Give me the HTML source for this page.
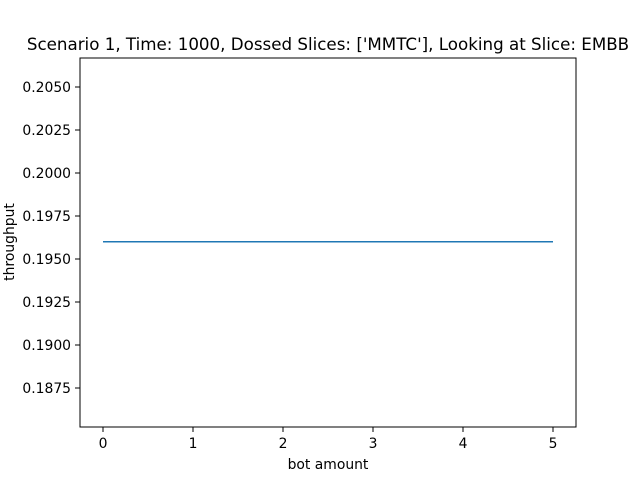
<!DOCTYPE html>
<html><head><meta charset="utf-8">
<style>
html,body{margin:0;padding:0;background:#fff;width:640px;height:480px;overflow:hidden}
text{font-family:"DejaVu Sans","Liberation Sans",sans-serif;fill:#000}
</style></head>
<body>
<svg id="chart" width="640" height="480" xmlns="http://www.w3.org/2000/svg">
<text x="328" y="50" font-size="16.7" text-anchor="middle">Scenario 1, Time: 1000, Dossed Slices: ['MMTC'], Looking at Slice: EMBB</text>
<rect x="80" y="58" width="496" height="369" fill="none" stroke="#000" stroke-width="1"/>
<g id="xticks"></g><g id="yticks"></g>
<text x="328" y="469" font-size="13.9" text-anchor="middle">bot amount</text>
<text x="14" y="242" font-size="13.9" text-anchor="middle" transform="rotate(-90 14 242)">throughput</text>
<path id="series" fill="none" stroke="#1f77b4" stroke-width="1.5"/>
</svg>
<script>
const botAmounts = [0, 1, 2, 3, 4, 5];
const throughput = [0.196, 0.196, 0.196, 0.196, 0.196, 0.196];
const xTickValues = [0, 1, 2, 3, 4, 5];
const yTickValues = [0.1875, 0.19, 0.1925, 0.195, 0.1975, 0.2, 0.2025, 0.205];
const yTickLabels = ["0.1875","0.1900","0.1925","0.1950","0.1975","0.2000","0.2025","0.2050"];

const NS = "http://www.w3.org/2000/svg";
function xs(v){ return 103 + v * 90; }
function ys(v){ return 388 - (v - 0.1875) / 0.0025 * 43; }

const xg = document.getElementById('xticks');
xTickValues.forEach(v => {
  const l = document.createElementNS(NS,'line');
  
  
  l.setAttribute('x1', xs(v)); l.setAttribute('x2', xs(v));
  l.setAttribute('y1', 427); l.setAttribute('y2', 432);
  l.setAttribute('stroke', '#000');
  xg.appendChild(l);
  const t = document.createElementNS(NS,'text');
  
  
  t.setAttribute('x', xs(v)); t.setAttribute('y', 448);
  t.setAttribute('font-size', '13.9'); t.setAttribute('text-anchor', 'middle');
  t.textContent = String(v);
  xg.appendChild(t);
});
const yg = document.getElementById('yticks');
yTickValues.forEach((v, i) => {
  const l = document.createElementNS(NS,'line');
  
  
  l.setAttribute('x1', 75); l.setAttribute('x2', 80);
  l.setAttribute('y1', ys(v)); l.setAttribute('y2', ys(v));
  l.setAttribute('stroke', '#000');
  yg.appendChild(l);
  const t = document.createElementNS(NS,'text');
  
  
  t.setAttribute('x', 71); t.setAttribute('y', ys(v) + 5);
  t.setAttribute('font-size', '13.9'); t.setAttribute('text-anchor', 'end');
  t.textContent = yTickLabels[i];
  yg.appendChild(t);
});
document.getElementById('series').setAttribute('d',
  botAmounts.map((x, i) => (i ? 'L' : 'M') + xs(x) + ' ' + ys(throughput[i])).join(' '));
</script>
</body></html>
